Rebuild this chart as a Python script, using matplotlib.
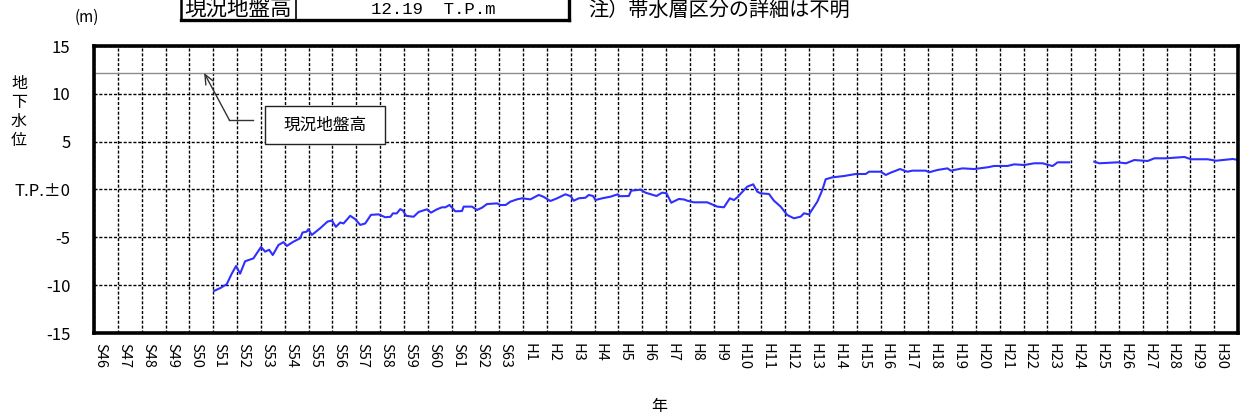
import numpy as np
import matplotlib
matplotlib.use("Agg")
import matplotlib.pyplot as plt
from matplotlib.lines import Line2D
from matplotlib.patches import Rectangle

plt.rcParams['font.family'] = ['Noto Sans CJK JP', 'DejaVu Sans']

# Groundwater level (T.P. m) by decimal year
years = [
    1976.04, 1976.30, 1976.57, 1976.78, 1976.96, 1977.13, 1977.34, 1977.69,
    1978.01, 1978.18, 1978.35, 1978.50, 1978.74, 1978.95, 1979.09, 1979.37,
    1979.65, 1979.75, 1979.93, 1979.99, 1980.14, 1980.49, 1980.80, 1980.98,
    1981.15, 1981.33, 1981.47, 1981.75, 1981.96, 1982.17, 1982.38, 1982.62,
    1982.94, 1983.22, 1983.44, 1983.54, 1983.70, 1983.85, 1983.96, 1984.10,
    1984.41, 1984.62, 1984.97, 1985.14, 1985.39, 1985.60, 1985.74, 1985.92,
    1986.16, 1986.44, 1986.51, 1986.86, 1987.07, 1987.28, 1987.49, 1987.91,
    1988.05, 1988.27, 1988.47, 1988.75, 1988.96, 1989.31, 1989.66, 1989.85,
    1990.15, 1990.43, 1990.78, 1991.00, 1991.13, 1991.34, 1991.62, 1991.76,
    1991.94, 1992.04, 1992.32, 1992.67, 1992.98, 1993.05, 1993.44, 1993.54,
    1993.93, 1994.14, 1994.60, 1994.84, 1995.02, 1995.22, 1995.54, 1995.77,
    1995.89, 1996.17, 1996.73, 1997.15, 1997.43, 1997.68, 1997.85, 1997.99,
    1998.41, 1998.66, 1998.83, 1998.97, 1999.32, 1999.53, 1999.81, 2000.09,
    2000.37, 2000.65, 2000.79, 2001.00, 2001.35, 2001.56, 2001.70, 2001.98,
    2002.47, 2002.96, 2003.38, 2003.52, 2004.01, 2004.22, 2004.43, 2004.82,
    2005.13, 2005.34, 2005.90, 2006.04, 2006.39, 2006.81, 2006.95, 2007.44,
    2007.93, 2008.49, 2008.77, 2009.33, 2009.61, 2010.03, 2010.45, 2010.80,
    2011.22, 2011.43, 2011.92, 2012.50, 2012.97, 2013.18, 2013.95, 2014.30,
    2014.65, 2015.21, 2015.49, 2015.98, 2016.75, 2017.03, 2017.73, 2018.08,
    2018.78, 2018.99,
]
levels = [
    -10.6, -10.3, -9.9, -8.8, -8.0, -8.8, -7.5, -7.2,
    -6.0, -6.5, -6.3, -6.85, -5.8, -5.5, -5.9, -5.45,
    -5.1, -4.5, -4.4, -4.15, -4.75, -4.05, -3.35, -3.25,
    -3.9, -3.45, -3.55, -2.75, -3.1, -3.7, -3.55, -2.65,
    -2.6, -2.9, -2.85, -2.5, -2.5, -2.05, -2.2, -2.75,
    -2.85, -2.35, -2.07, -2.42, -2.07, -1.86, -1.86, -1.62,
    -2.28, -2.25, -1.79, -1.79, -2.14, -1.90, -1.52, -1.45,
    -1.62, -1.62, -1.27, -1.03, -0.92, -1.03, -0.57, -0.75,
    -1.2, -0.92, -0.5, -0.7, -1.17, -0.92, -0.86, -0.57,
    -0.68, -1.1, -0.92, -0.75, -0.5, -0.7, -0.68, -0.12,
    -0.02, -0.33, -0.68, -0.33, -0.4, -1.38, -0.99, -1.05,
    -1.17, -1.34, -1.34, -1.79, -1.86, -0.92, -1.1, -0.82,
    0.3, 0.54, -0.23, -0.4, -0.47, -1.17, -1.79, -2.67,
    -3.01, -2.84, -2.49, -2.6, -1.27, -0.05, 1.07, 1.27,
    1.41, 1.62, 1.62, 1.86, 1.86, 1.52, 1.76, 2.14,
    1.86, 1.97, 1.97, 1.80, 2.04, 2.21, 1.97, 2.21,
    2.14, 2.32, 2.46, 2.46, 2.63, 2.56, 2.74, 2.74,
    2.45, 2.84, 2.84, np.nan, 2.91, 2.74, 2.84, 2.74,
    3.08, 2.98, 3.26, 3.26, 3.40, 3.16, 3.16, 3.01,
    3.19, 3.10,
]

ground_level = 12.19
first_year = 1971
last_year = 2019
era_labels = ([f"S{n}" for n in range(46, 64)] +
              [f"H{n}" for n in range(1, 31)])
ytick_values = [-15, -10, -5, 0, 5, 10, 15]
ytick_labels = ['-15', '-10', '-5', 'T.P.±0', '5', '10', '15']

W, H = 1240, 419
fig = plt.figure(figsize=(W / 100, H / 100), dpi=100)


def fx(x):
    return x / W


def fy(y):
    return 1 - y / H


ax = fig.add_axes([fx(94), fy(333), fx(1238) - fx(94), fy(46) - fy(333)])

# groundwater level trace
ax.plot(years, levels, color='#2f2fff', lw=1.5, zorder=4,
        solid_joinstyle='round')
# ground surface elevation
ax.axhline(ground_level, color='#8c8c8c', lw=1.0, zorder=3)

ax.set_xlim(first_year, last_year)
ax.set_ylim(-15, 15)

# year grid and labels
ax.set_xticks(np.arange(first_year, last_year + 1))
ax.set_xticklabels([])
ax.set_xticks(np.arange(first_year, last_year) + 0.27, minor=True)
ax.set_xticklabels(era_labels, minor=True, rotation=270, fontsize=10.5,
                   va='top', ha='center')
ax.tick_params(axis='x', which='both', length=0)
ax.tick_params(axis='x', which='minor', pad=7)

ax.set_yticks(ytick_values)
ax.set_yticklabels(ytick_labels, fontsize=12)
ax.tick_params(axis='y', length=0, pad=17)

ax.grid(True, which='major', color='black', lw=1.0,
        linestyle=(0, (2.2, 1.3)), zorder=2)
ax.set_axisbelow(True)
for sp in ax.spines.values():
    sp.set_linewidth(2.6)
    sp.set_color('black')
    sp.set_zorder(6)

# callout for ground surface elevation
x_tip = first_year + 4.62
ax.annotate('', xy=(x_tip, ground_level), xytext=(first_year + 5.68, 7.26),
            arrowprops=dict(arrowstyle='->,head_length=0.7,head_width=0.3',
                            color='#333333', lw=1.0, shrinkA=0, shrinkB=0),
            zorder=5)
ax.plot([first_year + 5.68, first_year + 6.68], [7.26, 7.26],
        color='#333333', lw=1.0, zorder=5)
ax.add_patch(Rectangle((first_year + 7.18, 4.76), 5.04, 3.97,
                       facecolor='white', edgecolor='#222222', lw=1.0,
                       zorder=5))
ax.text(first_year + 7.18 + 2.52, 6.75, '現況地盤高', fontsize=12,
        ha='center', va='center', zorder=6)

# axis captions
fig.text(fx(87), fy(17), '(m)', fontsize=11, ha='center', va='center')
fig.text(fx(19), fy(112), '地\n下\n水\n位', fontsize=11.5, ha='center',
         va='center', linespacing=1.15)
fig.text(fx(659), fy(406), '年', fontsize=11.5, ha='center', va='center')

# header table
fig.add_artist(Line2D([fx(181), fx(181)], [fy(-2), fy(20)], lw=1.8,
                      color='black', transform=fig.transFigure))
fig.add_artist(Line2D([fx(569), fx(569)], [fy(-2), fy(20)], lw=2.4,
                      color='black', transform=fig.transFigure))
fig.add_artist(Line2D([fx(181), fx(569)], [fy(20), fy(20)], lw=2.4,
                      color='black', transform=fig.transFigure))
fig.add_artist(Line2D([fx(296), fx(296)], [fy(-2), fy(20)], lw=1.2,
                      color='black', transform=fig.transFigure))
fig.text(fx(238), fy(9), '現況地盤高', fontsize=15.5, ha='center',
         va='center')
fig.text(fx(433), fy(10), f'{ground_level:.2f}  T.P.m', fontsize=12.5,
         family='Liberation Mono', ha='center', va='center')
fig.text(fx(588), fy(10), '注）帯水層区分の詳細は不明', fontsize=14.5,
         ha='left', va='center')

fig.savefig('out.png', dpi=100)
